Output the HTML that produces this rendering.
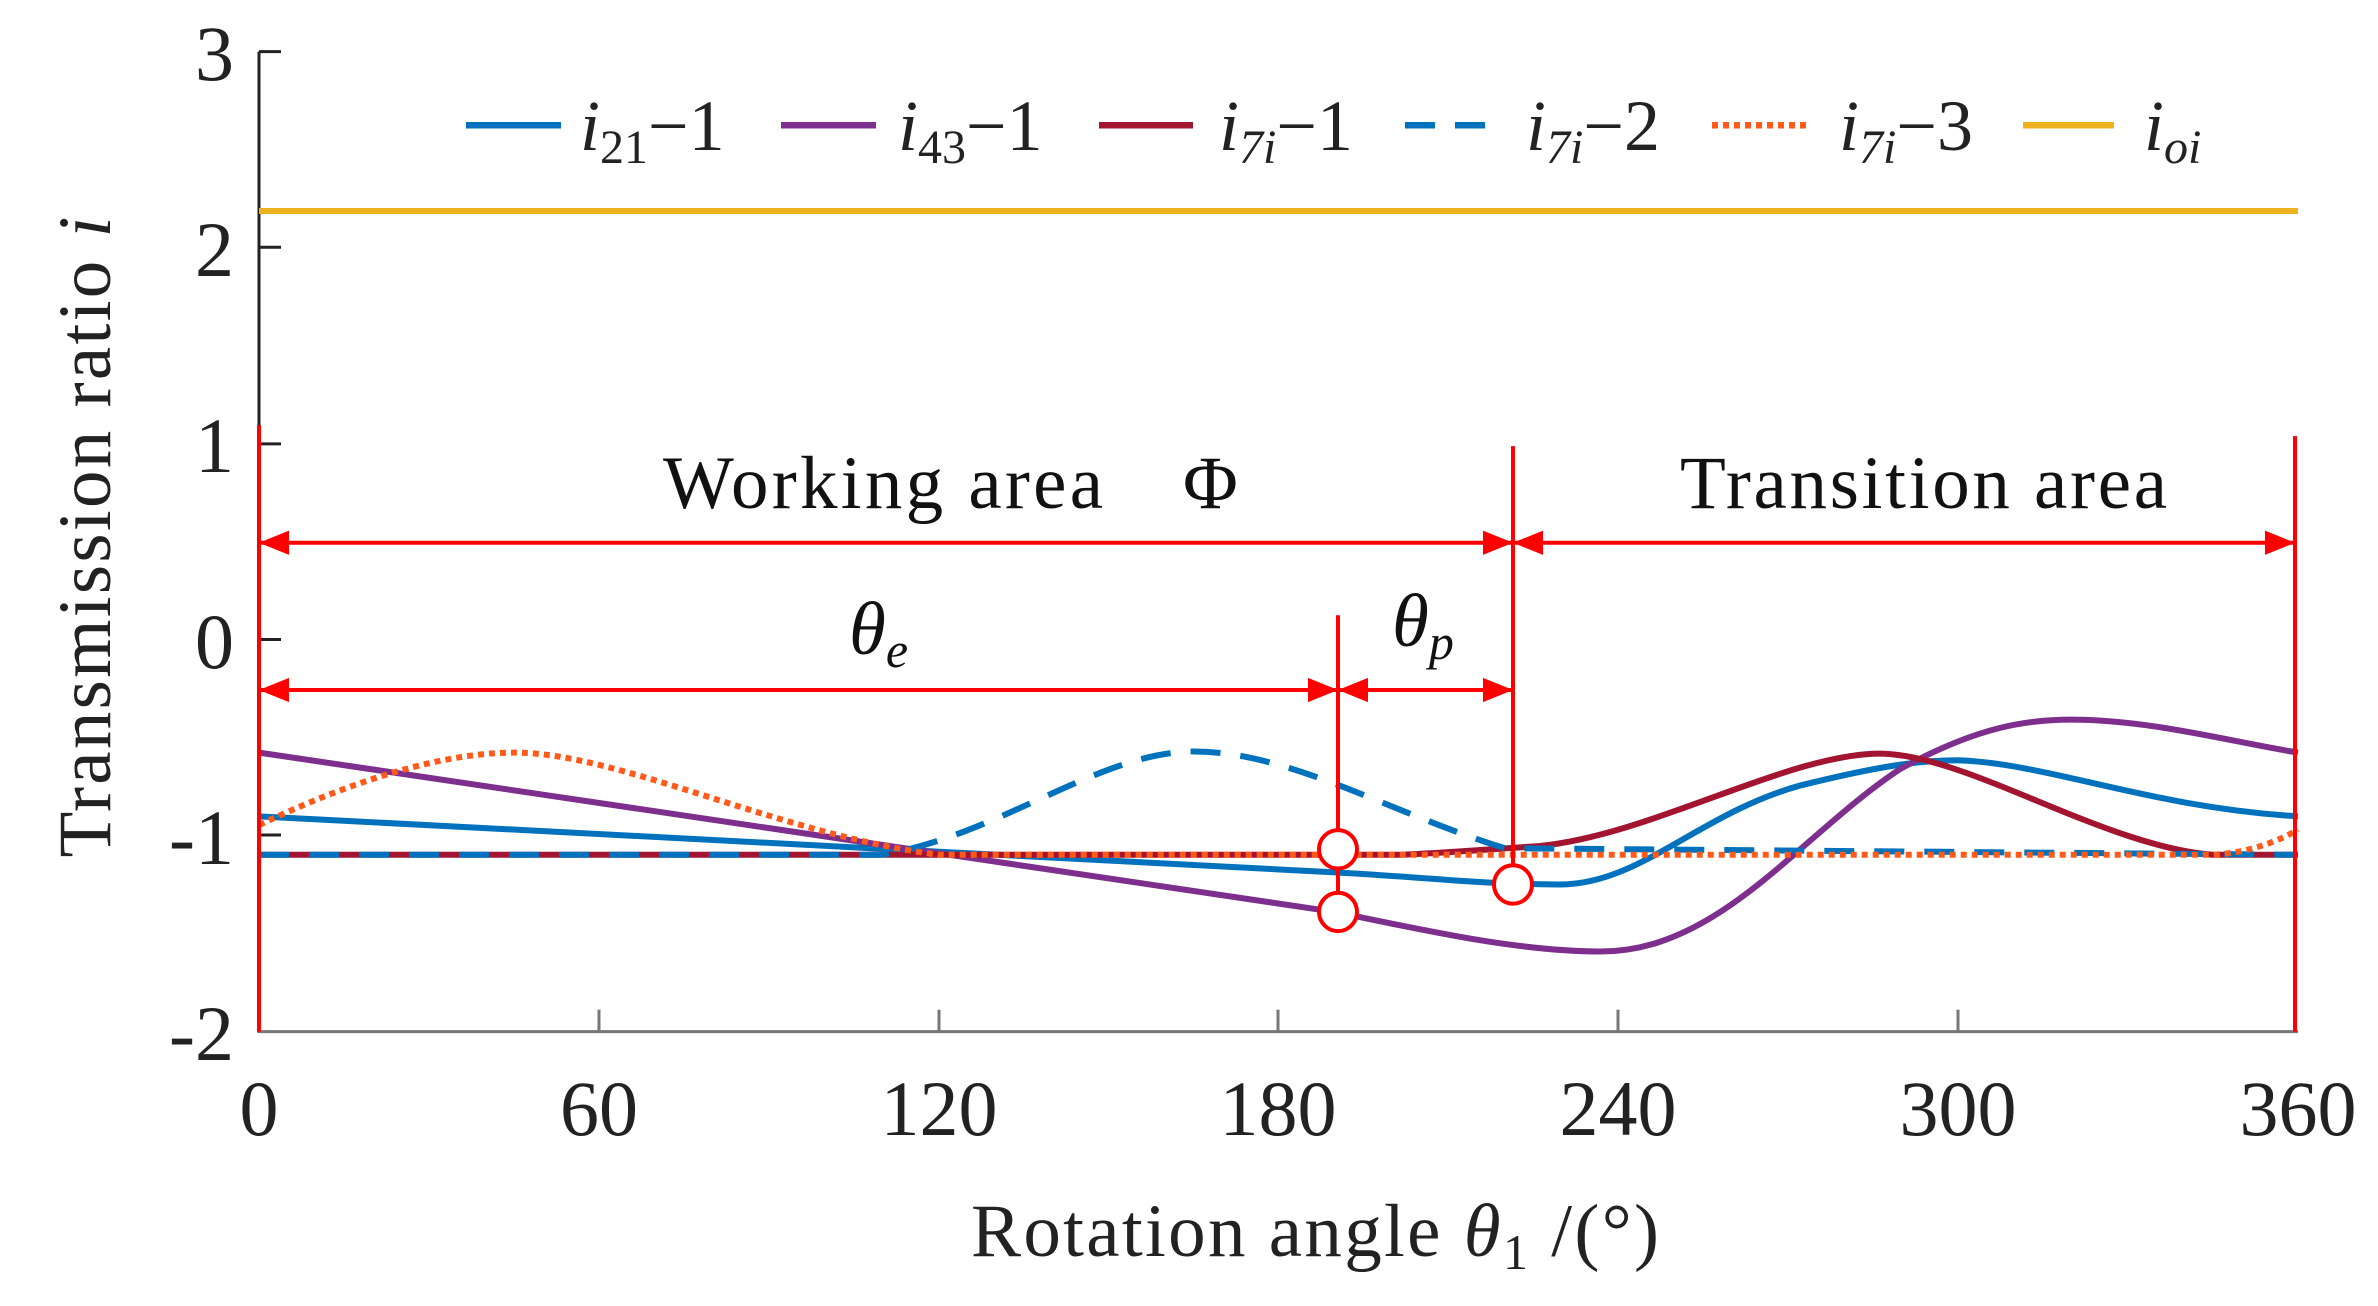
<!DOCTYPE html>
<html><head><meta charset="utf-8"><style>
html,body{margin:0;padding:0;background:#fff;}
svg{display:block;font-family:"Liberation Serif",serif;}
</style></head><body>
<svg width="2378" height="1306" viewBox="0 0 2378 1306" xmlns="http://www.w3.org/2000/svg" font-family="Liberation Serif, serif">
<g transform="scale(1,1.0987)">
<!-- axes -->
<line x1="259" y1="47" x2="259" y2="940" stroke="#222" stroke-width="3" vector-effect="non-scaling-stroke"/>
<line x1="259" y1="939" x2="2298" y2="939" stroke="#777" stroke-width="3" vector-effect="non-scaling-stroke"/>
<g stroke="#222" stroke-width="3">
<line x1="259" y1="47" x2="281" y2="47" vector-effect="non-scaling-stroke"/><line x1="259" y1="225" x2="281" y2="225" vector-effect="non-scaling-stroke"/>
<line x1="259" y1="404" x2="281" y2="404" vector-effect="non-scaling-stroke"/><line x1="259" y1="582" x2="281" y2="582" vector-effect="non-scaling-stroke"/>
<line x1="259" y1="760" x2="281" y2="760" vector-effect="non-scaling-stroke"/>
</g>
<g stroke="#777" stroke-width="3">
<line x1="599" y1="939" x2="599" y2="919"/><line x1="939" y1="939" x2="939" y2="919"/>
<line x1="1278" y1="939" x2="1278" y2="919"/><line x1="1618" y1="939" x2="1618" y2="919"/>
<line x1="1958" y1="939" x2="1958" y2="919"/>
</g>
<!-- ioi -->
<line x1="259" y1="192" x2="2298" y2="192" stroke="#EDB120" stroke-width="6" vector-effect="non-scaling-stroke"/>
<!-- curves -->
<g fill="none" stroke-width="6">
<path vector-effect="non-scaling-stroke" d="M259,743 L1335,794 C1420,798 1480,805 1560,805 C1640,805 1700,740 1800,715 C1880,697 1920,692 1958,692 C2050,695 2150,735 2298,743" stroke="#0072BD"/>
<path vector-effect="non-scaling-stroke" d="M259,685 L1335,830 C1430,848 1520,866 1601,866 C1720,866 1800,760 1900,700 C1980,660 2030,655 2071,655 C2150,655 2230,675 2298,685" stroke="#7E2F8E"/>
<path vector-effect="non-scaling-stroke" d="M259,778 L1400,778 C1450,776 1505,772 1540,770 C1650,760 1780,690 1873,686 C1960,682 2100,770 2213,778 L2298,778" stroke="#A2142F"/>
<path vector-effect="non-scaling-stroke" d="M259,778 L882,778 C1000,760 1100,684 1194,684 C1290,684 1390,740 1505,772 L2298,778" stroke="#0072BD" stroke-dasharray="30,20"/>
<path vector-effect="non-scaling-stroke" d="M259,751 C330,720 430,685 514,685 C620,685 780,760 939,778 L2213,778 C2250,776 2280,765 2298,755" stroke="#FF5A1A" stroke-dasharray="6,5"/>
</g>
<!-- annotations -->
<g stroke="#FF0000" stroke-width="4" fill="none">
<line x1="259" y1="387" x2="259" y2="939" vector-effect="non-scaling-stroke"/>
<line x1="2295" y1="397" x2="2295" y2="939" vector-effect="non-scaling-stroke"/>
<line x1="1338" y1="560" x2="1338" y2="830" vector-effect="non-scaling-stroke"/>
<line x1="1513" y1="406" x2="1513" y2="805" vector-effect="non-scaling-stroke"/>
<line x1="259" y1="494" x2="2295" y2="494" vector-effect="non-scaling-stroke"/>
<line x1="259" y1="628" x2="1513" y2="628" vector-effect="non-scaling-stroke"/>
</g>
<g fill="#FF0000">
<polygon points="259,494 289,483 289,505"/>
<polygon points="1513,494 1483,483 1483,505"/>
<polygon points="1513,494 1543,483 1543,505"/>
<polygon points="2295,494 2265,483 2265,505"/>
<polygon points="259,628 289,617 289,639"/>
<polygon points="1338,628 1308,617 1308,639"/>
<polygon points="1338,628 1368,617 1368,639"/>
<polygon points="1513,628 1483,617 1483,639"/>
</g>
<g fill="#fff" stroke="#FF0000" stroke-width="4">
<ellipse cx="1338" cy="773" rx="19" ry="17.5" vector-effect="non-scaling-stroke"/>
<ellipse cx="1338" cy="830" rx="19" ry="17.5" vector-effect="non-scaling-stroke"/>
<ellipse cx="1513" cy="805" rx="19" ry="17.5" vector-effect="non-scaling-stroke"/>
</g>
<!-- legend lines -->
<g stroke-width="6">
<line x1="466" y1="114" x2="561" y2="114" stroke="#0072BD"/>
<line x1="781" y1="114" x2="876" y2="114" stroke="#7E2F8E"/>
<line x1="1099" y1="114" x2="1193" y2="114" stroke="#A2142F"/>
<line x1="1405" y1="114" x2="1500" y2="114" stroke="#0072BD" stroke-dasharray="30,20"/>
<line x1="1712" y1="114" x2="1807" y2="114" stroke="#FF5A1A" stroke-dasharray="6,5"/>
<line x1="2023" y1="114" x2="2114" y2="114" stroke="#EDB120"/>
</g>
</g>

<g font-size="78" fill="#222" text-anchor="end">
<text x="234" y="80">3</text><text x="234" y="276">2</text><text x="234" y="472">1</text>
<text x="234" y="668">0</text><text x="234" y="864">-1</text><text x="234" y="1060">-2</text>
</g>
<g font-size="78" fill="#222" text-anchor="middle">
<text x="259" y="1135">0</text><text x="599" y="1135">60</text><text x="939" y="1135">120</text>
<text x="1278" y="1135">180</text><text x="1618" y="1135">240</text><text x="1958" y="1135">300</text>
<text x="2298" y="1135">360</text>
</g>
<text x="971" y="1256" font-size="75" fill="#222" textLength="688" lengthAdjust="spacing">Rotation angle <tspan font-style="italic">θ</tspan><tspan font-size="50" dy="13">1</tspan><tspan dy="-13"> /(°)</tspan></text>
<text transform="translate(110,537) rotate(-90)" font-size="75" fill="#222" text-anchor="middle" textLength="641" lengthAdjust="spacing">Transmission ratio <tspan font-style="italic">i</tspan></text>

<g font-size="75" fill="#111">
<text x="663" y="508" textLength="440" lengthAdjust="spacing">Working area</text>
<text x="1183" y="508">Φ</text>
<text x="1680" y="508" textLength="487" lengthAdjust="spacing">Transition area</text>
<text x="849" y="654" font-style="italic">θ<tspan font-size="50" dy="13">e</tspan></text>
<text x="1392" y="646" font-style="italic">θ<tspan font-size="50" dy="13">p</tspan></text>
</g>
<g font-size="72" fill="#222">
<text x="580" y="150"><tspan font-style="italic">i</tspan><tspan font-size="48" dy="13">21</tspan><tspan dy="-13">−1</tspan></text>
<text x="898" y="150"><tspan font-style="italic">i</tspan><tspan font-size="48" dy="13">43</tspan><tspan dy="-13">−1</tspan></text>
<text x="1219" y="150"><tspan font-style="italic">i</tspan><tspan font-size="48" dy="13" font-style="italic">7i</tspan><tspan dy="-13">−1</tspan></text>
<text x="1526" y="150"><tspan font-style="italic">i</tspan><tspan font-size="48" dy="13" font-style="italic">7i</tspan><tspan dy="-13">−2</tspan></text>
<text x="1839" y="150"><tspan font-style="italic">i</tspan><tspan font-size="48" dy="13" font-style="italic">7i</tspan><tspan dy="-13">−3</tspan></text>
<text x="2144" y="150"><tspan font-style="italic">i</tspan><tspan font-size="48" dy="13" font-style="italic">oi</tspan></text>
</g>
</svg>
</body></html>
